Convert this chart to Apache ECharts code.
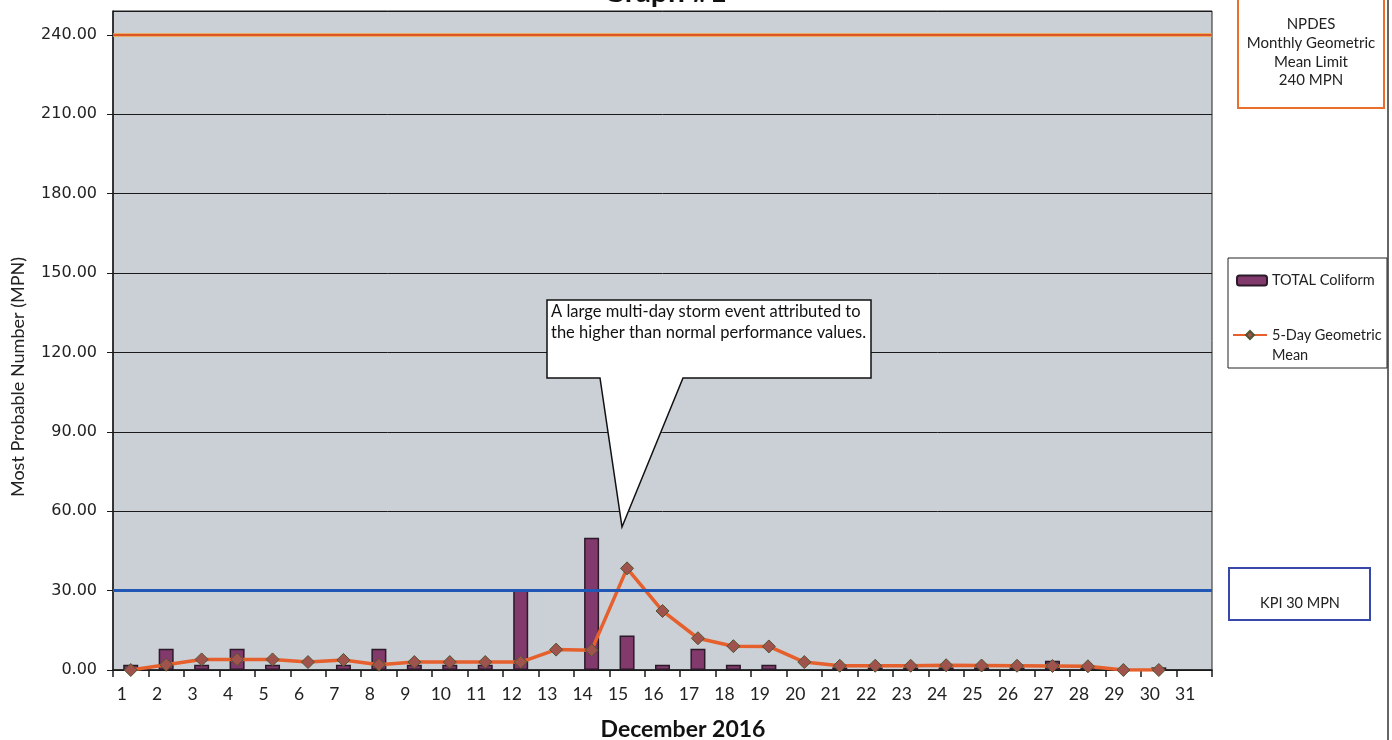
<!DOCTYPE html>
<html>
<head>
<meta charset="utf-8">
<script src="https://cdn.jsdelivr.net/npm/echarts@6/dist/echarts.min.js"></script>
<style>
  html, body { margin: 0; padding: 0; background: #ffffff; }
  #chart { width: 1392px; height: 740px; }
</style>
</head>
<body>
<div id="chart"></div>
<script>
// Days of December 2016
const days = ['1','2','3','4','5','6','7','8','9','10','11','12','13','14','15','16',
              '17','18','19','20','21','22','23','24','25','26','27','28','29','30','31'];

// Daily TOTAL Coliform results (MPN); null = no reportable bar
const coliform = [2, 8, 2, 8, 2, null, 2, 8, 2, 2, 2, 30, null, 50, 13, 2,
                  8, 2, 2, null, 1, 1, 1, 1, 1, 1, 3.5, 1, null, 1, null];

// Rolling 5-day geometric mean (MPN)
const geoMean = [0, 2, 4, 4, 4, 3, 3.8, 2, 3, 3, 3, 3, 7.7, 7.5, 38.4, 22.3,
                 12, 9, 8.9, 3, 1.6, 1.6, 1.6, 1.8, 1.7, 1.6, 1.5, 1.4, 0, 0, null];

// Reference levels
const npdesLimit = 240;
const kpiLevel = 30;

// Y axis range and step
const yMin = 0;
const yMax = 249;
const yStep = 30;

const FONT = 'Lato, "Open Sans", sans-serif';

const chart = echarts.init(document.getElementById('chart'), null, { renderer: 'canvas' });

const option = {
  backgroundColor: '#ffffff',
  animation: false,
  grid: {
    left: 113, right: 180, top: 11, bottom: 70,
    show: true,
    backgroundColor: '#cbcfd6',
    borderColor: '#222222',
    borderWidth: 1
  },
  legend: [
    {
      orient: 'vertical',
      left: 1231, top: 268,
      itemWidth: 30, itemHeight: 10,
      data: ['TOTAL Coliform'],
      textStyle: { fontFamily: FONT, fontSize: 14.5, color: '#222' },
      selectedMode: false
    },
    {
      orient: 'vertical',
      left: 1227, top: 300,
      itemWidth: 34, itemHeight: 10,
      data: ['5-Day Geometric Mean'],
      formatter: () => '\n5-Day Geometric\nMean',
      textStyle: { fontFamily: FONT, fontSize: 14.5, color: '#222', lineHeight: 20 },
      selectedMode: false
    }
  ],
  xAxis: {
    type: 'category',
    data: days,
    boundaryGap: true,
    axisLine: { lineStyle: { color: '#1a1a1a', width: 1.5 } },
    axisTick: { show: true, length: 7, lineStyle: { color: '#1a1a1a', width: 1.5 } },
    axisLabel: {
      interval: 0,
      fontFamily: FONT,
      fontSize: 17.5,
      color: '#222',
      margin: 15,
      padding: [0, 18, 0, 0]
    },
    splitLine: { show: false }
  },
  yAxis: {
    type: 'value',
    min: yMin,
    max: yMax,
    interval: yStep,
    axisLine: { show: true, lineStyle: { color: '#1a1a1a', width: 1.5 } },
    axisTick: { show: true, length: 6, lineStyle: { color: '#1a1a1a' } },
    axisLabel: {
      showMaxLabel: false,
      fontFamily: '"DejaVu Sans", Verdana, sans-serif',
      fontSize: 16,
      color: '#222',
      margin: 16,
      formatter: v => v.toFixed(2)
    },
    splitLine: { show: true, lineStyle: { color: '#1a1a1a', width: 1 } }
  },
  series: [
    {
      name: 'TOTAL Coliform',
      type: 'bar',
      data: coliform,
      barWidth: 15,
      itemStyle: { color: '#823a6c', borderColor: '#2b1b28', borderWidth: 1.5 },
      z: 2,
      markLine: {
        silent: true,
        symbol: 'none',
        label: { show: false },
        data: [
          { yAxis: npdesLimit, lineStyle: { color: '#f0a23c', width: 3.5, type: 'solid' } },
          { yAxis: kpiLevel, lineStyle: { color: '#2157b5', width: 3, type: 'solid' } }
        ]
      }
    },
    {
      name: '5-Day Geometric Mean',
      type: 'line',
      data: geoMean,
      z: 3,
      symbol: 'diamond',
      symbolSize: 13,
      lineStyle: { color: '#e5602c', width: 3.5 },
      itemStyle: { color: '#a0524c', borderColor: '#4f5530', borderWidth: 1 },
      markLine: {
        silent: true,
        symbol: 'none',
        label: { show: false },
        data: [
          { yAxis: npdesLimit, lineStyle: { color: '#d83c22', width: 1.5, type: 'solid' } }
        ]
      }
    }
  ],
  graphic: [
    // chart title (partly off the top edge)
    {
      type: 'text', x: 665, y: 7, z: 10,
      style: {
        text: 'Graph #1', fontFamily: FONT, fontWeight: 'bold', fontSize: 30, fill: '#111',
        align: 'center', verticalAlign: 'bottom'
      }
    },
    // y axis title
    {
      type: 'text', x: 18, y: 377, rotation: Math.PI / 2, z: 10,
      style: {
        text: 'Most Probable Number (MPN)', fontFamily: FONT, fontSize: 18, fill: '#222',
        align: 'center', verticalAlign: 'middle'
      }
    },
    // x axis title
    {
      type: 'text', x: 683, y: 730, z: 10,
      style: {
        text: 'December 2016', fontFamily: FONT, fontWeight: 'bold', fontSize: 23, fill: '#111',
        align: 'center', verticalAlign: 'middle'
      }
    },
    // storm annotation callout
    {
      type: 'polygon', z: 20,
      shape: { points: [[547, 300], [871, 300], [871, 378], [683, 378], [622, 527], [600, 378], [547, 378]] },
      style: { fill: '#ffffff', stroke: '#111', lineWidth: 1.5 }
    },
    {
      type: 'text', x: 551, y: 301, z: 21,
      style: {
        text: 'A large multi-day storm event attributed to\nthe higher than normal performance values.',
        fontFamily: FONT, fontSize: 16.5, lineHeight: 21, fill: '#111', align: 'left', verticalAlign: 'top'
      }
    },
    // NPDES limit note
    {
      type: 'rect', z: 10,
      shape: { x: 1238, y: -5, width: 146, height: 113 },
      style: { fill: '#ffffff', stroke: '#e8702a', lineWidth: 2 }
    },
    {
      type: 'text', x: 1311, y: 15, z: 11,
      style: {
        text: 'NPDES\nMonthly Geometric\nMean Limit\n' + npdesLimit + ' MPN',
        fontFamily: FONT, fontSize: 15, lineHeight: 18.7, fill: '#222', align: 'center', verticalAlign: 'top'
      }
    },
    // legend frame
    {
      type: 'rect', z: 1,
      shape: { x: 1228, y: 258, width: 159, height: 110 },
      style: { fill: '#ffffff', stroke: '#222', lineWidth: 1 }
    },
    // KPI note
    {
      type: 'rect', z: 10,
      shape: { x: 1229, y: 568, width: 141, height: 52 },
      style: { fill: '#ffffff', stroke: '#3848a8', lineWidth: 2 }
    },
    {
      type: 'text', x: 1300, y: 603, z: 11,
      style: {
        text: 'KPI ' + kpiLevel + ' MPN', fontFamily: FONT, fontSize: 14.5, fill: '#222',
        align: 'center', verticalAlign: 'middle'
      }
    },
    // page edge on the right
    {
      type: 'line', z: 10,
      shape: { x1: 1388, y1: 0, x2: 1388, y2: 740 },
      style: { stroke: '#333', lineWidth: 1.5 }
    }
  ]
};

chart.setOption(option);
</script>
</body>
</html>
